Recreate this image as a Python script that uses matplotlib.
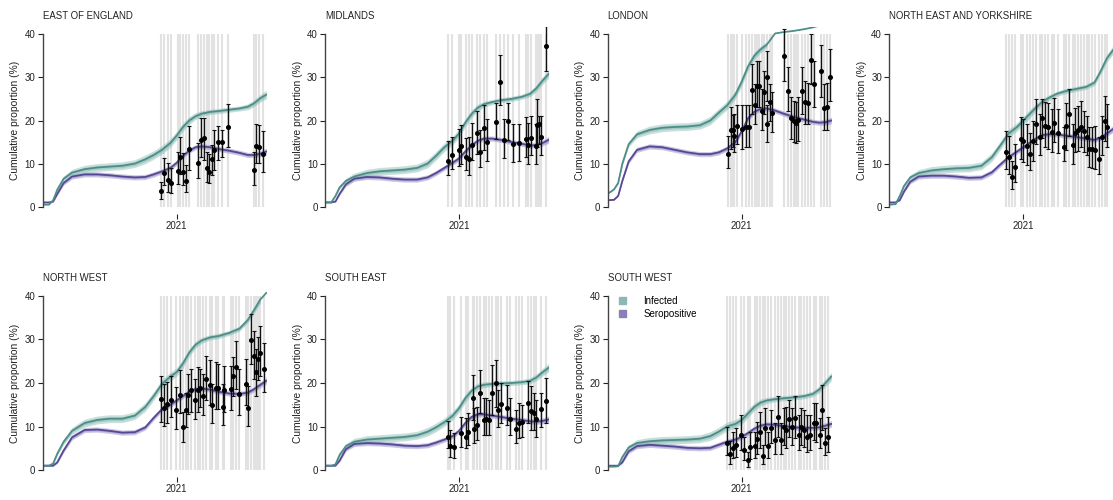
import matplotlib
matplotlib.use("Agg")
import matplotlib.pyplot as plt
from matplotlib.patches import Patch
import numpy as np

plt.rcParams["font.family"] = ["Liberation Sans", "DejaVu Sans"]

# model curves: days relative to 2021-01-01, cumulative %
grid_days = [-320, -305, -295, -285, -270, -250, -220, -190, -160, -130, -100, -75, -55, -35,
             -15, 0, 15, 30, 45, 60, 80, 100, 125, 150, 170, 185, 200, 214]

inf_hw_outer = [0.1, 0.1, 0.2, 0.4, 0.6, 0.8, 0.9, 0.9, 0.9, 0.9, 0.9, 1.0, 1.0, 1.0,
                1.0, 1.0, 1.0, 0.9, 0.8, 0.7, 0.6, 0.6, 0.6, 0.6, 0.7, 0.8, 0.9, 1.0]
inf_hw_inner = [0.05, 0.05, 0.1, 0.2, 0.3, 0.4, 0.45, 0.45, 0.45, 0.45, 0.45, 0.5, 0.5, 0.5,
                0.5, 0.5, 0.5, 0.45, 0.4, 0.35, 0.3, 0.3, 0.3, 0.3, 0.35, 0.4, 0.45, 0.5]
sero_hw_outer = [0.1, 0.1, 0.1, 0.3, 0.5, 0.6, 0.6, 0.6, 0.6, 0.6, 0.6, 0.6, 0.6, 0.6,
                 0.6, 0.6, 0.6, 0.6, 0.6, 0.6, 0.6, 0.6, 0.6, 0.6, 0.6, 0.6, 0.7, 0.8]
sero_hw_inner = [0.05, 0.05, 0.05, 0.15, 0.25, 0.3, 0.3, 0.3, 0.3, 0.3, 0.3, 0.3, 0.3, 0.3,
                 0.3, 0.3, 0.3, 0.3, 0.3, 0.3, 0.3, 0.3, 0.3, 0.3, 0.3, 0.3, 0.35, 0.4]

regions = ["EAST OF ENGLAND", "MIDLANDS", "LONDON", "NORTH EAST AND YORKSHIRE",
           "NORTH WEST", "SOUTH EAST", "SOUTH WEST"]

# ---- East of England
east_inf = [0.5, 0.5, 1.5, 4.0, 6.5, 7.9, 8.7, 9.1, 9.3, 9.5, 10.0, 11.0, 12.0, 13.2,
            14.8, 16.5, 18.5, 20.0, 21.0, 21.6, 22.0, 22.2, 22.5, 22.8, 23.2, 24.0, 25.2, 26.0]
east_sero = [1.0, 1.0, 1.2, 3.0, 5.5, 7.0, 7.5, 7.5, 7.3, 7.0, 6.8, 6.9, 7.5, 8.2,
             9.0, 10.2, 11.8, 13.0, 13.8, 14.0, 13.8, 13.4, 13.0, 12.5, 12.0, 12.0, 12.3, 12.8]
east_day = [-37, -30, -20, -14, 2, 8, 14, 22, 29, 52, 57, 65, 73, 78, 85, 88, 99, 109, 123,
            185, 189, 197, 205]
east_obs = [3.7, 7.9, 6.2, 5.4, 8.3, 11.6, 8.0, 6.0, 13.4, 10.2, 15.5, 15.9, 8.9, 8.1, 11.0,
            13.1, 15.1, 15.1, 18.4, 8.4, 14.1, 13.8, 12.2]
east_lo = [1.7, 5.0, 3.5, 3.1, 5.3, 7.7, 5.0, 3.5, 8.5, 6.6, 11.6, 10.8, 5.8, 5.4, 7.3,
           8.5, 10.8, 11.6, 13.9, 5.0, 10.1, 10.1, 8.1]
east_hi = [5.8, 11.4, 10.1, 8.9, 12.8, 16.2, 12.4, 9.7, 18.8, 14.7, 20.5, 20.5, 12.8, 12.2, 14.3,
           17.8, 18.7, 17.8, 23.8, 12.8, 19.3, 18.9, 17.6]

# ---- Midlands
mid_inf = [1.0, 1.0, 2.5, 4.5, 6.0, 7.0, 7.8, 8.2, 8.4, 8.6, 9.0, 10.0, 11.8, 13.8,
           15.3, 17.0, 19.5, 21.5, 23.0, 23.8, 24.3, 24.7, 25.0, 25.5, 26.2, 27.5, 29.3, 30.8]
mid_sero = [1.0, 1.0, 1.2, 3.0, 5.2, 6.5, 6.9, 6.8, 6.5, 6.3, 6.3, 6.8, 7.8, 9.0,
            10.2, 11.2, 12.8, 14.2, 15.3, 15.8, 15.8, 15.5, 15.0, 14.6, 14.2, 14.3, 14.8, 15.5]
mid_day = [-27, -16, 1, 5, 16, 23, 30, 44, 51, 59, 66, 88, 98, 108, 116, 130, 144, 159, 165,
           172, 184, 187, 190, 196, 207]
mid_obs = [10.5, 11.9, 13.2, 14.0, 11.5, 11.1, 14.4, 17.1, 12.8, 18.3, 15.1, 19.7, 29.0, 15.4,
           19.8, 14.5, 14.8, 15.8, 14.3, 15.9, 14.1, 19.0, 19.2, 16.2, 37.2]
mid_lo = [7.3, 8.7, 9.5, 9.8, 8.5, 7.3, 10.8, 12.3, 9.2, 13.2, 10.6, 15.8, 23.5, 11.2,
          15.4, 10.4, 10.5, 11.5, 10.0, 12.1, 9.8, 13.8, 14.6, 11.9, 31.4]
mid_hi = [15.2, 16.2, 18.1, 19.0, 15.9, 16.2, 19.5, 22.3, 17.7, 23.5, 20.4, 24.1, 35.2, 20.4,
          24.0, 19.2, 19.1, 20.9, 19.4, 21.1, 19.2, 24.9, 21.1, 21.1, 41.9]

# ---- London
lon_inf = [3.0, 4.0, 5.5, 10.0, 14.5, 16.8, 17.8, 18.3, 18.5, 18.6, 18.9, 20.0, 21.8, 23.5,
           26.0, 29.0, 32.5, 35.0, 36.5, 37.6, 40.2, 40.5, 40.8, 41.2, 41.6, 42.0, 42.5, 43.0]
lon_sero = [1.5, 1.6, 2.5, 6.0, 10.5, 13.2, 14.0, 13.8, 13.2, 12.6, 12.2, 12.2, 12.6, 13.5,
            15.0, 17.5, 20.5, 22.0, 22.7, 22.8, 22.3, 21.6, 20.8, 20.2, 19.7, 19.5, 19.6, 20.0]
lon_day = [-32, -26, -21, -18, -10, 1, 10, 18, 25, 32, 37, 41, 48, 53, 60, 61, 68, 72,
           101, 111, 118, 125, 130, 135, 145, 151, 158, 165, 173, 189, 197, 203, 212]
lon_obs = [12.3, 17.7, 17.9, 16.5, 18.7, 18.1, 18.6, 18.4, 27.1, 23.7, 28.1, 28.1, 22.1, 26.5,
           30.2, 19.2, 24.2, 21.7, 35.0, 26.9, 20.6, 19.8, 19.5, 20.2, 26.8, 24.2, 24.1, 34.0,
           28.5, 31.4, 22.9, 23.2, 30.2]
lon_lo = [9.0, 13.5, 13.8, 12.7, 14.6, 13.5, 13.8, 13.8, 21.5, 19.2, 23.1, 23.1, 17.7, 21.5,
          24.6, 15.0, 20.0, 17.3, 29.1, 22.3, 15.8, 15.0, 14.8, 15.2, 21.5, 19.2, 19.2, 28.5,
          23.1, 25.4, 17.8, 17.7, 24.6]
lon_hi = [16.5, 23.1, 21.2, 21.5, 23.7, 23.7, 23.5, 23.7, 33.1, 28.5, 33.8, 33.7, 27.3, 31.5,
          36.2, 23.5, 28.5, 26.5, 41.2, 32.3, 25.4, 24.6, 24.4, 25.4, 32.3, 29.2, 28.8, 40.0,
          33.8, 37.5, 28.5, 28.8, 36.5]

# ---- North East and Yorkshire
ney_inf = [0.5, 0.6, 2.5, 4.8, 6.8, 7.8, 8.4, 8.7, 8.9, 9.0, 9.5, 11.5, 14.2, 17.0,
           18.5, 20.0, 21.5, 23.0, 24.3, 25.2, 26.2, 26.8, 27.3, 27.8, 28.8, 31.5, 34.5, 36.3]
ney_sero = [1.0, 1.0, 1.5, 3.5, 5.8, 7.0, 7.2, 7.2, 7.0, 6.7, 6.8, 8.0, 9.8, 11.5,
            12.8, 13.8, 14.8, 15.8, 16.6, 16.8, 16.8, 16.5, 16.2, 15.8, 15.5, 16.0, 17.0, 18.0]
ney_day = [-41, -34, -26, -20, -6, 0, 10, 17, 24, 31, 40, 45, 53, 60, 68, 74, 83, 97, 103,
           110, 118, 123, 131, 138, 146, 152, 158, 165, 171, 181, 189, 196, 201]
ney_obs = [12.6, 11.5, 6.9, 9.3, 15.7, 15.3, 14.0, 12.3, 15.3, 19.3, 16.1, 20.5, 18.7, 18.5,
           17.4, 19.5, 17.0, 13.8, 18.8, 21.5, 14.4, 17.2, 17.9, 18.6, 17.6, 16.2, 13.4, 13.3,
           13.1, 11.1, 16.2, 19.9, 18.4]
ney_lo = [8.8, 7.7, 4.0, 5.7, 11.1, 10.3, 9.6, 8.4, 10.7, 14.6, 11.9, 16.0, 13.8, 13.4,
          12.6, 14.9, 12.4, 10.7, 13.2, 16.4, 10.0, 12.6, 13.0, 13.8, 12.6, 11.9, 9.2, 9.0,
          8.8, 7.7, 11.9, 15.3, 13.8]
ney_hi = [17.6, 16.5, 10.7, 14.6, 20.8, 20.3, 19.3, 17.2, 19.9, 24.9, 21.4, 25.0, 24.4, 24.1,
          22.6, 25.3, 22.6, 18.6, 24.1, 27.2, 19.2, 23.0, 23.4, 24.5, 22.2, 21.1, 18.4, 18.4,
          18.8, 16.1, 21.1, 25.7, 23.8]

# ---- North West
nw_inf = [1.0, 1.0, 1.5, 3.8, 6.5, 9.0, 10.8, 11.5, 11.8, 11.8, 12.5, 14.5, 17.0, 19.8,
          21.5, 22.5, 24.5, 27.0, 28.8, 29.8, 30.5, 30.8, 31.5, 32.5, 34.5, 36.8, 39.2, 40.7]
nw_sero = [1.0, 1.0, 1.0, 1.8, 4.5, 7.5, 9.2, 9.3, 9.0, 8.6, 8.7, 9.8, 12.0, 14.0,
           15.0, 16.0, 17.0, 18.0, 18.6, 18.7, 18.5, 18.0, 17.6, 17.5, 17.8, 18.6, 19.6, 20.5]
nw_day = [-37, -30, -22, -14, -2, 7, 14, 22, 28, 34, 44, 51, 55, 63, 70, 79, 85, 93, 99,
          111, 114, 129, 135, 142, 149, 166, 171, 178, 185, 190, 194, 199, 208]
nw_obs = [16.4, 14.3, 15.1, 16.2, 13.9, 17.3, 9.9, 13.7, 17.3, 18.3, 16.0, 18.5, 18.8, 17.1,
          21.0, 19.6, 14.9, 18.9, 18.9, 14.5, 18.3, 18.7, 21.7, 23.6, 17.4, 19.8, 14.3, 29.9,
          26.1, 22.5, 25.5, 26.8, 23.2]
nw_lo = [11.0, 10.1, 10.7, 12.2, 9.5, 13.0, 6.5, 9.9, 12.8, 13.3, 11.8, 13.3, 14.5, 12.6,
         16.0, 14.9, 10.7, 14.1, 14.1, 10.3, 13.3, 13.7, 17.1, 18.7, 12.6, 14.9, 10.1, 24.4,
         20.9, 17.1, 20.6, 21.7, 17.9]
nw_hi = [21.7, 19.8, 20.2, 21.7, 19.0, 22.9, 13.3, 17.7, 22.1, 23.2, 20.9, 23.6, 23.2, 22.1,
         26.3, 25.3, 19.8, 24.8, 24.4, 19.8, 23.9, 23.8, 25.9, 29.7, 23.2, 25.5, 19.2, 35.8,
         32.0, 27.8, 30.5, 33.1, 29.3]

# ---- South East
se_inf = [1.0, 1.0, 1.3, 3.5, 5.5, 6.5, 7.0, 7.2, 7.4, 7.6, 8.0, 8.8, 9.8, 11.0,
          12.5, 14.2, 16.5, 18.2, 19.2, 19.6, 19.8, 19.9, 20.0, 20.2, 20.5, 21.3, 22.5, 23.5]
se_sero = [1.0, 1.0, 1.0, 2.2, 4.8, 6.0, 6.2, 6.1, 5.9, 5.6, 5.5, 5.7, 6.3, 7.0,
           7.8, 9.0, 10.8, 12.2, 12.8, 12.8, 12.5, 12.2, 11.8, 11.5, 11.2, 11.1, 11.3, 11.6]
se_day = [-26, -22, -13, 4, 16, 22, 33, 37, 43, 50, 59, 64, 72, 79, 88, 93, 100, 114, 122,
          135, 143, 150, 165, 172, 178, 185, 197, 207]
se_obs = [7.7, 5.5, 5.2, 8.5, 7.7, 8.7, 16.5, 9.5, 10.4, 17.8, 11.5, 11.7, 11.4, 17.8, 20.0,
          13.8, 15.2, 14.3, 11.7, 9.4, 10.8, 11.0, 15.5, 13.5, 13.1, 11.7, 14.0, 15.9]
se_lo = [5.0, 3.1, 2.8, 5.4, 5.0, 5.8, 11.5, 6.2, 6.9, 13.1, 8.1, 8.1, 8.1, 12.7, 14.6,
         10.0, 10.8, 10.4, 8.1, 6.2, 7.3, 7.7, 10.8, 9.2, 9.1, 7.7, 10.0, 10.8]
se_hi = [11.3, 9.2, 8.5, 12.3, 11.9, 13.1, 21.9, 14.2, 14.6, 23.1, 16.5, 16.5, 16.2, 24.2, 25.4,
         18.5, 20.0, 19.6, 16.5, 13.8, 15.4, 15.0, 20.4, 19.2, 17.7, 16.2, 17.7, 21.2]

# ---- South West
sw_inf = [0.8, 0.8, 0.9, 3.0, 5.2, 6.2, 6.6, 6.8, 6.9, 7.0, 7.2, 7.8, 8.8, 10.0,
          10.6, 11.5, 13.0, 14.5, 15.5, 16.0, 16.3, 16.5, 16.7, 17.0, 17.5, 18.5, 20.0, 21.5]
sw_sero = [1.0, 1.0, 1.0, 1.8, 4.3, 5.5, 5.8, 5.6, 5.4, 5.1, 5.0, 5.1, 5.8, 6.5,
           7.0, 7.6, 8.5, 9.5, 10.2, 10.5, 10.4, 10.1, 9.8, 9.7, 9.7, 9.8, 10.2, 10.6]
sw_day = [-36, -29, -21, -14, -2, 6, 14, 21, 33, 37, 43, 51, 56, 64, 71, 80, 87, 93, 100,
          107, 114, 121, 128, 137, 142, 150, 157, 164, 173, 178, 186, 192, 198, 206]
sw_obs = [6.1, 3.7, 5.1, 5.7, 8.0, 4.6, 2.3, 5.2, 5.5, 7.1, 8.8, 3.2, 9.6, 5.5, 9.6, 6.9,
          12.3, 6.9, 9.8, 9.2, 11.7, 9.8, 11.9, 8.0, 9.8, 9.2, 7.7, 8.0, 10.9, 10.7, 8.0,
          13.9, 6.1, 7.7]
sw_lo = [3.4, 1.5, 2.8, 3.1, 4.6, 2.3, 0.8, 2.5, 2.7, 3.8, 5.0, 1.5, 5.7, 2.7, 6.1, 3.8,
         7.7, 3.8, 5.7, 5.0, 7.7, 5.7, 7.3, 4.6, 5.7, 5.4, 4.2, 4.6, 6.9, 6.5, 5.0,
         9.2, 3.4, 4.2]
sw_hi = [9.9, 6.7, 8.8, 9.6, 12.6, 7.7, 4.2, 8.8, 8.8, 11.1, 13.4, 5.7, 14.2, 8.8, 13.8, 10.7,
         16.9, 10.7, 14.2, 14.6, 16.1, 14.2, 16.9, 12.6, 14.2, 13.8, 12.6, 12.6, 15.5, 15.5, 11.9,
         19.5, 9.6, 12.3]

panels = [
    (east_inf, east_sero, east_day, east_obs, east_lo, east_hi),
    (mid_inf, mid_sero, mid_day, mid_obs, mid_lo, mid_hi),
    (lon_inf, lon_sero, lon_day, lon_obs, lon_lo, lon_hi),
    (ney_inf, ney_sero, ney_day, ney_obs, ney_lo, ney_hi),
    (nw_inf, nw_sero, nw_day, nw_obs, nw_lo, nw_hi),
    (se_inf, se_sero, se_day, se_obs, se_lo, se_hi),
    (sw_inf, sw_sero, sw_day, sw_obs, sw_lo, sw_hi),
]

inf_line, inf_band = "#4e8e88", "#86b9b3"
sero_line, sero_band = "#564896", "#9289c2"
text_col = "#222222"

W, H = 1113, 500
fig = plt.figure(figsize=(W / 100, H / 100), dpi=100)

col_left = [42.7, 325.0, 607.7, 889.3]
row_top = [27.4, 289.0]
row_h = [186.2, 188.0]
ax_w = 224.0

g = np.array(grid_days, dtype=float)

for k, (name, (inf, sero, d, obs, lo, hi)) in enumerate(zip(regions, panels)):
    r, c = divmod(k, 4)
    ax = fig.add_axes([col_left[c] / W, 1 - (row_top[r] + row_h[r]) / H, ax_w / W, row_h[r] / H])
    inf = np.array(inf)
    sero = np.array(sero)

    # sampling dates
    ax.vlines(d, 0, 40, color="#e2e2e2", lw=1.5, zorder=0)

    for vals, hw_o, hw_i, band, line in [
        (sero, sero_hw_outer, sero_hw_inner, sero_band, sero_line),
        (inf, inf_hw_outer, inf_hw_inner, inf_band, inf_line),
    ]:
        hw_o = np.array(hw_o)
        hw_i = np.array(hw_i)
        ok = vals + hw_o <= 40.5
        ax.fill_between(g, vals - hw_o, vals + hw_o, where=ok, color=band, alpha=0.45, lw=0, zorder=1)
        ax.fill_between(g, vals - hw_i, vals + hw_i, where=ok, color=band, alpha=0.5, lw=0, zorder=1)
        ax.plot(g, vals, color=line, lw=1.3, zorder=2)

    obs = np.array(obs)
    yerr = [obs - np.array(lo), np.array(hi) - obs]
    ax.errorbar(d, obs, yerr=yerr, fmt="o", ms=2.6, color="black", ecolor="#111111",
                elinewidth=1.0, capsize=1.6, capthick=0.8, zorder=3)

    ax.set_xlim(-320, 215)
    ax.set_ylim(-1.6, 41.6)
    for s in ["top", "right", "bottom"]:
        ax.spines[s].set_visible(False)
    ax.spines["left"].set_bounds(0, 40)
    ax.spines["left"].set_color("#444444")
    ax.spines["left"].set_linewidth(1.0)
    ax.set_yticks([0, 10, 20, 30, 40])
    ax.set_xticks([0])
    ax.set_xticklabels(["2021"])
    ax.tick_params(axis="both", labelsize=7, colors=text_col, length=3.8, width=0.8, pad=1.5)
    ax.set_ylabel("Cumulative proportion (%)", fontsize=7.4, color=text_col, labelpad=3)
    ax.text(0.0, 1.06, name, transform=ax.transAxes, ha="left", va="center",
            fontsize=6.9, color=text_col)

    if name == "SOUTH WEST":
        handles = [Patch(facecolor="#8cb8b3", edgecolor="#8cb8b3", label="Infected"),
                   Patch(facecolor="#8a80b8", edgecolor="#8a80b8", label="Seropositive")]
        ax.legend(handles=handles, loc="upper left", bbox_to_anchor=(0.02, 1.0), frameon=False,
                  fontsize=7, handlelength=0.7, handleheight=0.7, handletextpad=1.8,
                  labelspacing=0.35, borderpad=0.2)

fig.savefig("out.png", dpi=100)
